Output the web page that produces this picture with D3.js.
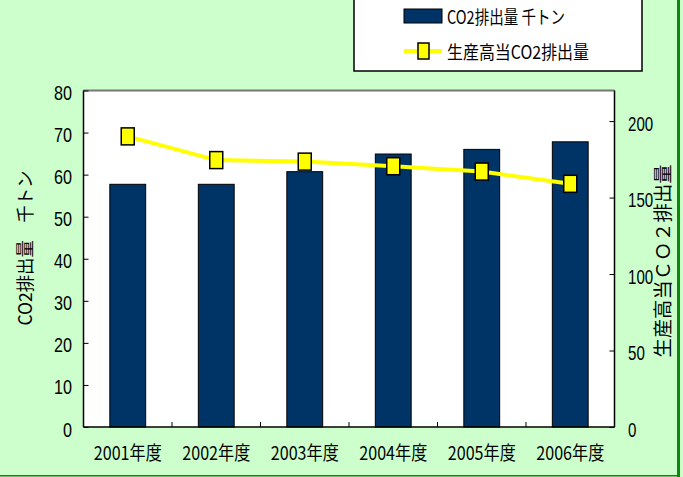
<!DOCTYPE html>
<html>
<head>
<meta charset="utf-8">
<script src="https://cdn.jsdelivr.net/npm/d3@7"></script>
<style>
  body { margin: 0; background: #ccffcc; }
  text { font-family: "Liberation Sans", "Noto Sans CJK JP", sans-serif; fill: #000; }
  .jp { font-family: "Noto Sans CJK JP", sans-serif; }
</style>
</head>
<body>
<div id="chart"></div>
<script>
// data
const years = ["2001年度", "2002年度", "2003年度", "2004年度", "2005年度", "2006年度"];
const co2 = [57.7, 57.7, 60.7, 64.9, 66.0, 67.8];          // 千トン (left axis)
const co2PerOutput = [190, 174.5, 173.5, 170.5, 167, 159]; // right axis
const leftTicks = [0, 10, 20, 30, 40, 50, 60, 70, 80];
const rightTicks = [0, 50, 100, 150, 200];

const width = 683, height = 477;
const plot = { left: 83.5, top: 90.5, right: 614.5, bottom: 427 };

const svg = d3.select("#chart").append("svg")
  .attr("width", width)
  .attr("height", height);

// background + green frame lines
svg.append("rect").attr("width", width).attr("height", height).attr("fill", "#ccffcc");
svg.append("rect").attr("x", 677).attr("y", 0).attr("width", 3).attr("height", height).attr("fill", "#0a8a0a");
svg.append("rect").attr("x", 0).attr("y", 475).attr("width", 680).attr("height", 1.5).attr("fill", "#0a8a0a");

//scales
const x = d3.scaleBand().domain(years).range([plot.left, plot.right]).padding(0);
const yL = d3.scaleLinear().domain([0, 80]).range([plot.bottom, plot.top]);
const yR = d3.scaleLinear().domain([0, 220]).range([plot.bottom, plot.top]);

// plot area
svg.append("rect")
  .attr("x", plot.left).attr("y", plot.top)
  .attr("width", plot.right - plot.left).attr("height", plot.bottom - plot.top)
  .attr("fill", "#fff");

// bars
const barW = x.bandwidth() * 0.405;
svg.append("g").selectAll("rect")
  .data(co2)
  .enter()
  .append("rect")
  .attr("x", (d, i) => x(years[i]) + (x.bandwidth() - barW) / 2)
  .attr("y", d => yL(d))
  .attr("width", barW)
  .attr("height", d => yL(0) - yL(d))
  .attr("fill", "#003366")
  .attr("stroke", "#000")
  .attr("stroke-width", 1);

// frame of plot area: top gray, others black
svg.append("line").attr("x1", plot.left).attr("x2", plot.right).attr("y1", plot.top).attr("y2", plot.top)
  .attr("stroke", "#777").attr("stroke-width", 2);
svg.append("line").attr("x1", plot.left).attr("x2", plot.left).attr("y1", plot.top).attr("y2", plot.bottom)
  .attr("stroke", "#000").attr("stroke-width", 1.5);
svg.append("line").attr("x1", plot.right).attr("x2", plot.right).attr("y1", plot.top).attr("y2", plot.bottom)
  .attr("stroke", "#000").attr("stroke-width", 1.5);

// left axis (ticks inward)
const axL = svg.append("g").attr("transform", `translate(${plot.left},0)`)
  .call(d3.axisRight(yL).tickValues(leftTicks).tickSize(5).tickFormat(""));
axL.select(".domain").remove();
axL.selectAll(".tick line").attr("stroke", "#000");
svg.append("g").selectAll("text")
  .data(leftTicks)
  .enter()
  .append("text")
  .attr("x", 72)
  .attr("y", d => yL(d) + 2)
  .attr("text-anchor", "end")
  .attr("dominant-baseline", "central")
  .attr("font-size", 21)
  .attr("textLength", d => String(d).length * 9)
  .attr("lengthAdjust", "spacingAndGlyphs")
  .text(d => d);

// right axis (ticks inward)
const axR = svg.append("g").attr("transform", `translate(${plot.right},0)`)
  .call(d3.axisLeft(yR).tickValues(rightTicks).tickSize(5).tickFormat(""));
axR.select(".domain").remove();
axR.selectAll(".tick line").attr("stroke", "#000");
svg.append("g").selectAll("text")
  .data(rightTicks)
  .enter()
  .append("text")
  .attr("x", 628)
  .attr("y", d => yR(d) + 2)
  .attr("dominant-baseline", "central")
  .attr("font-size", 21)
  .attr("textLength", d => String(d).length * 8.4)
  .attr("lengthAdjust", "spacingAndGlyphs")
  .text(d => d);

// bottom axis
svg.append("line").attr("x1", plot.left).attr("x2", plot.right).attr("y1", plot.bottom).attr("y2", plot.bottom)
  .attr("stroke", "#000").attr("stroke-width", 1.5);
svg.append("g").selectAll("line")
  .data(years.slice(1))
  .enter()
  .append("line")
  .attr("x1", d => x(d)).attr("x2", d => x(d))
  .attr("y1", plot.bottom).attr("y2", plot.bottom - 5)
  .attr("stroke", "#000");
svg.append("g").selectAll("text")
  .data(years)
  .enter()
  .append("text")
  .attr("class", "jp")
  .attr("x", d => x(d) + x.bandwidth() / 2)
  .attr("y", 451)
  .attr("text-anchor", "middle")
  .attr("dominant-baseline", "central")
  .attr("font-size", 19)
  .attr("textLength", 68)
  .attr("lengthAdjust", "spacingAndGlyphs")
  .text(d => d);

// line series
const line = d3.line()
  .x((d, i) => x(years[i]) + x.bandwidth() / 2)
  .y(d => yR(d));
svg.append("path")
  .datum(co2PerOutput)
  .attr("d", line)
  .attr("fill", "none")
  .attr("stroke", "#ffff00")
  .attr("stroke-width", 4);
svg.append("g").selectAll("rect")
  .data(co2PerOutput)
  .enter()
  .append("rect")
  .attr("x", (d, i) => x(years[i]) + x.bandwidth() / 2 - 6.5)
  .attr("y", d => yR(d) - 8.5)
  .attr("width", 13)
  .attr("height", 17)
  .attr("fill", "#ffff00")
  .attr("stroke", "#000")
  .attr("stroke-width", 1.5);

// axis titles
svg.append("text")
  .attr("class", "jp")
  .attr("transform", "translate(24,248) rotate(-90)")
  .attr("text-anchor", "middle")
  .attr("dominant-baseline", "central")
  .attr("font-size", 18)
  .attr("textLength", 155)
  .attr("lengthAdjust", "spacingAndGlyphs")
  .text("CO2排出量　千トン");
svg.append("text")
  .attr("class", "jp")
  .attr("transform", "translate(661,261) rotate(-90)")
  .attr("text-anchor", "middle")
  .attr("dominant-baseline", "central")
  .attr("font-size", 19)
  .attr("textLength", 193)
  .attr("lengthAdjust", "spacingAndGlyphs")
  .text("生産高当ＣＯ２排出量");

// legend
const legend = svg.append("g");
legend.append("rect")
  .attr("x", 354).attr("y", -3).attr("width", 288).attr("height", 74)
  .attr("fill", "#fff").attr("stroke", "#000").attr("stroke-width", 1.5);
legend.append("rect")
  .attr("x", 404).attr("y", 9).attr("width", 38).attr("height", 14)
  .attr("fill", "#003366").attr("stroke", "#000");
legend.append("text")
  .attr("class", "jp")
  .attr("x", 447).attr("y", 16)
  .attr("dominant-baseline", "central")
  .attr("font-size", 18)
  .attr("textLength", 118)
  .attr("lengthAdjust", "spacingAndGlyphs")
  .text("CO2排出量 千トン");
legend.append("line")
  .attr("x1", 404).attr("x2", 442).attr("y1", 51).attr("y2", 51)
  .attr("stroke", "#ffff00").attr("stroke-width", 4);
legend.append("rect")
  .attr("x", 418).attr("y", 43).attr("width", 11).attr("height", 16)
  .attr("fill", "#ffff00").attr("stroke", "#000").attr("stroke-width", 1.5);
legend.append("text")
  .attr("class", "jp")
  .attr("x", 447).attr("y", 51)
  .attr("dominant-baseline", "central")
  .attr("font-size", 18)
  .attr("textLength", 142)
  .attr("lengthAdjust", "spacingAndGlyphs")
  .text("生産高当CO2排出量");
</script>
</body>
</html>
